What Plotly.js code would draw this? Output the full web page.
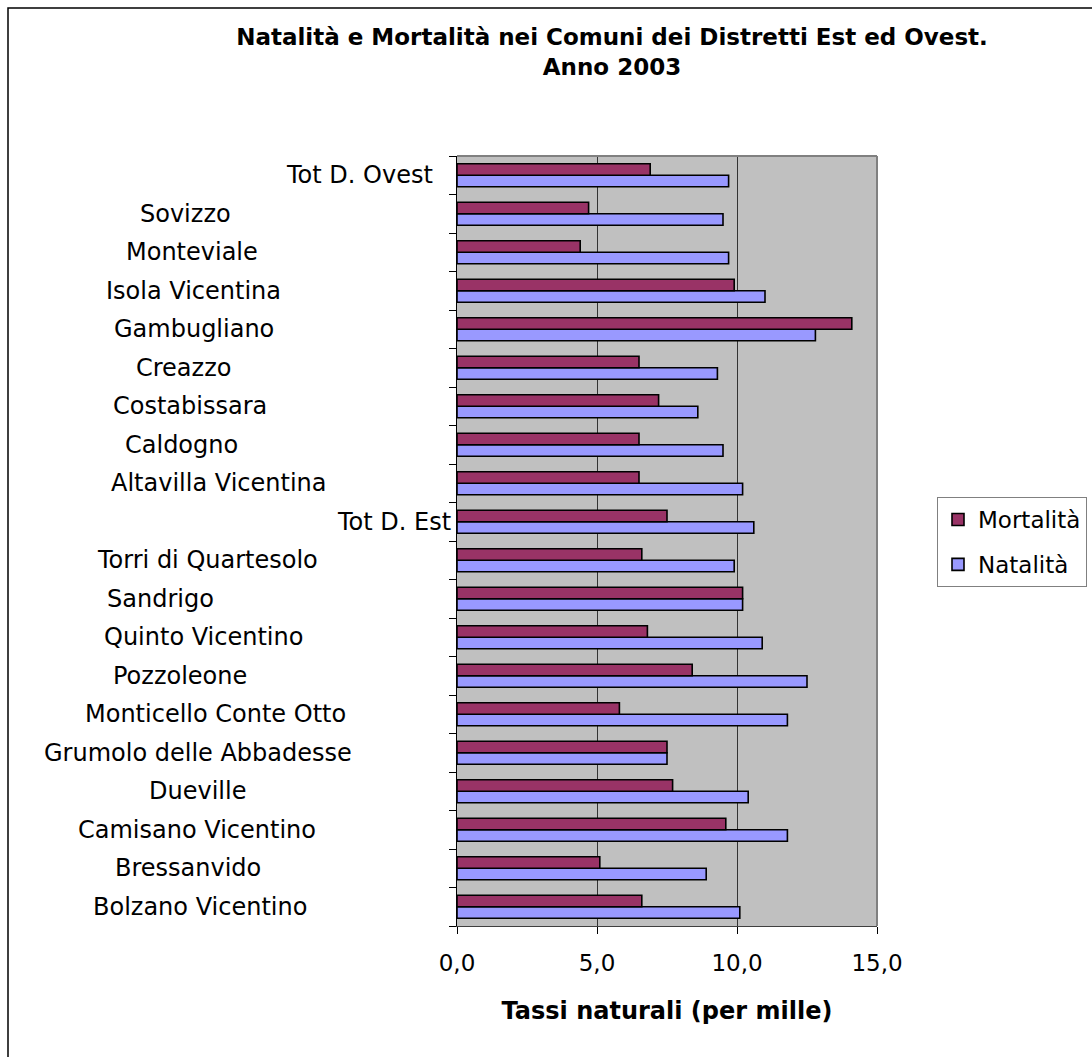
<!DOCTYPE html>
<html>
<head>
<meta charset="utf-8">
<script src="https://cdn.plot.ly/plotly-3.0.1.min.js"></script>
<style>
  html, body { margin: 0; padding: 0; background: #ffffff; }
  #chart { width: 1092px; height: 1057px; }
</style>
</head>
<body>
<div id="chart"></div>
<script>
// Comuni (bottom to top), Distretto Est first, then Distretto Ovest
const comuni = [
  "Bolzano Vicentino", "Bressanvido", "Camisano Vicentino", "Dueville",
  "Grumolo delle Abbadesse", "Monticello Conte Otto", "Pozzoleone",
  "Quinto Vicentino", "Sandrigo", "Torri di Quartesolo", "Tot D. Est",
  "Altavilla Vicentina", "Caldogno", "Costabissara", "Creazzo",
  "Gambugliano", "Isola Vicentina", "Monteviale", "Sovizzo", "Tot D. Ovest"
];

// Tassi naturali per mille abitanti, anno 2003
const mortalita = [6.6, 5.1, 9.6, 7.7, 7.5, 5.8, 8.4, 6.8, 10.2, 6.6, 7.5,
                   6.5, 6.5, 7.2, 6.5, 14.1, 9.9, 4.4, 4.7, 6.9];
const natalita  = [10.1, 8.9, 11.8, 10.4, 7.5, 11.8, 12.5, 10.9, 10.2, 9.9, 10.6,
                   10.2, 9.5, 8.6, 9.3, 12.8, 11.0, 9.7, 9.5, 9.7];

const xTicks = [0, 5, 10, 15];

// ---- layout geometry (pixels) ----
const W = 1092, H = 1057;
const plotL = 457, plotR = 877, plotT = 156, plotB = 926;
const pw = plotR - plotL, ph = plotB - plotT;
const px2x = p => (p - plotL) / pw;
const py2y = p => (plotB - p) / ph;

// horizontal centre of each category label
const labelCenterX = [200, 188, 197, 197, 198, 215, 180, 203, 160, 207, 394,
                      218, 181, 190, 183, 194, 193, 192, 185, 359];

const FONT = "DejaVu Sans";

const traces = [
  {
    type: "bar", orientation: "h", name: "Natalità",
    y: comuni, x: natalita, legendgroup: "n", legendrank: 2,
    marker: { color: "#9999FF", line: { color: "#000000", width: 1.6 } },
    hoverinfo: "x+y"
  },
  {
    type: "bar", orientation: "h", name: "Mortalità",
    y: comuni, x: mortalita, legendgroup: "m", legendrank: 1,
    marker: { color: "#993366", line: { color: "#000000", width: 1.6 } },
    hoverinfo: "x+y"
  }
];

const annotations = comuni.map((c, i) => ({
  xref: "paper", yref: "y",
  x: px2x(labelCenterX[i]), y: c,
  xanchor: "center", yanchor: "middle",
  text: c, showarrow: false,
  font: { family: FONT, size: 24, color: "#000000" }
}));

const shapes = [
  // outer chart frame
  { type: "rect", xref: "paper", yref: "paper",
    x0: px2x(8), x1: px2x(1110), y0: py2y(1080), y1: py2y(8),
    line: { color: "#000000", width: 1.5 }, fillcolor: "rgba(0,0,0,0)" },
  // plot area border (top and right)
  { type: "line", xref: "paper", yref: "paper", x0: 0, x1: 1, y0: 1, y1: 1,
    line: { color: "#808080", width: 2 } },
  { type: "line", xref: "paper", yref: "paper", x0: 1, x1: 1, y0: 0, y1: 1,
    line: { color: "#808080", width: 2 } }
];

const layout = {
  width: W, height: H,
  margin: { l: plotL, r: W - plotR, t: plotT, b: H - plotB, pad: 0, autoexpand: false },
  paper_bgcolor: "#ffffff",
  plot_bgcolor: "#C0C0C0",
  separators: ",.",
  font: { family: FONT, color: "#000000" },
  title: {
    text: "Natalità e Mortalità nei Comuni dei Distretti Est ed Ovest.<br>Anno 2003",
    font: { family: FONT, size: 23, weight: "bold", color: "#000000" },
    xref: "paper", x: px2x(612), xanchor: "center",
    yref: "container", y: 1 - 45 / H, yanchor: "top"
  },
  barmode: "group",
  bargap: 0.4,
  bargroupgap: 0,
  showlegend: true,
  legend: {
    x: px2x(937), y: py2y(497), xanchor: "left", yanchor: "top",
    traceorder: "grouped",
    tracegroupgap: 12,
    bgcolor: "#ffffff", bordercolor: "#808080", borderwidth: 1,
    font: { family: FONT, size: 23, color: "#000000" }
  },
  xaxis: {
    range: [0, 15],
    tickvals: xTicks,
    tickformat: ".1f",
    ticks: "outside", ticklen: 7, tickcolor: "#000000", tickwidth: 1,
    ticklabelstandoff: 9,
    showgrid: true, gridcolor: "#333333", gridwidth: 1,
    zeroline: false,
    showline: true, linecolor: "#404040", linewidth: 1,
    tickfont: { family: FONT, size: 23, color: "#000000" },
    title: {
      text: "Tassi naturali (per mille)",
      font: { family: FONT, size: 24, weight: "bold", color: "#000000" },
      standoff: 27
    },
    fixedrange: true
  },
  yaxis: {
    type: "category",
    categoryorder: "array", categoryarray: comuni,
    range: [-0.5, comuni.length - 0.5],
    showticklabels: false,
    ticks: "outside", tickson: "boundaries", ticklen: 7,
    tickcolor: "#000000", tickwidth: 1,
    showgrid: false, zeroline: false,
    showline: true, linecolor: "#000000", linewidth: 1.5,
    fixedrange: true
  },
  annotations: annotations,
  shapes: shapes
};

Plotly.newPlot("chart", traces, layout, { displayModeBar: false, staticPlot: true });
</script>
</body>
</html>
